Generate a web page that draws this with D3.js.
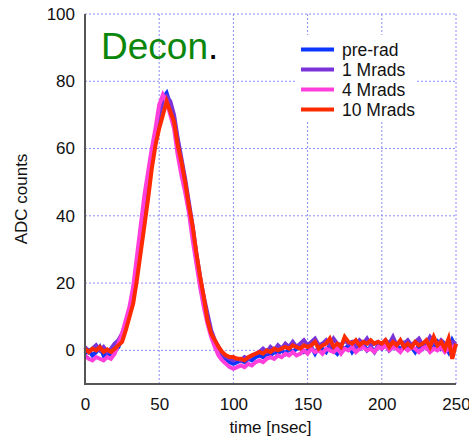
<!DOCTYPE html>
<html>
<head>
<meta charset="utf-8">
<script src="https://cdn.jsdelivr.net/npm/d3@7"></script>
<style>
  body { margin: 0; background: #fff; }
  text { font-family: "Liberation Sans", Arial, Helvetica, sans-serif; }
</style>
</head>
<body>
<script>
// time axis: one sample every 2.5 nsec, 0..250
const times = d3.range(0, 250.01, 2.5);

const seriesNames = ["pre-rad", "1 Mrads", "4 Mrads", "10 Mrads"];
const seriesColors = ["#0a36ff", "#7a33d9", "#ff3edc", "#ff2a00"];

const preRad = [
  -1, 0, -1.5, -0.5, 1, -1.5, -0.5, -2, 0, 1,
  4, 8, 12, 18, 26, 35, 43, 51, 58, 65,
  71, 75, 76.5, 73, 68, 61, 55, 49, 42, 35,
  27, 20, 14, 9, 5, 2, 0, -2, -3, -3.5,
  -4, -3.5, -3, -3.5, -2.5, -3, -2, -1.5, -2, -1,
  -1.5, -0.5, -1, 0, -1, 0.5, -0.5, 0.5, 1, -0.5,
  0, 1, -1, 1, 0.5, -0.5, 1.5, 0, -1, 1,
  0.5, 1.5, -0.5, 1, 0.5, 2, 0, 1, -0.5, 1.5,
  0.5, 2, 0, 1, 1.5, 0, 2, 0.5, 1, -0.5,
  1.5, 0.5, 2, 0, 1, 2.5, 0.5, 1.5, -0.5, 3,
  1
];

const oneMrad = [
  1, -0.5, 0.5, 1.5, 0, 1, -0.5, 0.5, 2, 3,
  5, 8, 12, 17, 25, 34, 42, 50, 57, 64,
  70, 74, 75.5, 74, 70, 63, 57, 51, 44, 37,
  29, 22, 16, 11, 6, 3, 1, -1, -2, -2.5,
  -3, -2.5, -3, -2, -2.5, -1.5, -1, -0.5, 0.5, -0.5,
  1, 0, 1.5, 0.5, 2, 1, 2.5, 1, 2, 3,
  1.5, 2.5, 3.5, 1.5, 2, 3, 1.5, 3.5, 2, 1.5,
  3, 2, 2.5, 1.5, 3, 2, 3.5, 1.5, 2, 2.5,
  1.5, 3, 2, 4, 1.5, 2.5, 2, 3, 1.5, 2.5,
  3.5, 1.5, 2, 4, 2.5, 1.5, 3, 2, 1.5, 2.5,
  2
];

const fourMrad = [
  -1.5, -2.5, -3, -2, -2.5, -3, -2, -2.5, -1, 2,
  5, 9, 13, 19, 28, 37, 46, 53, 60, 66,
  73, 76, 74, 70, 66, 58, 52, 47, 41, 33,
  26, 19, 13, 8, 4, 1, -1.5, -3, -4, -5,
  -5.5, -5, -4.5, -5, -4, -4.5, -3.5, -3, -3.5, -2.5,
  -2, -2.5, -1.5, -2, -1, -1.5, -0.5, -1.5, -1, 0,
  -1, 0.5, -0.5, 0, -1, 0.5, 0, -0.5, 0.5, -1,
  0.5, 0, 1, -0.5, 0.5, 1, 0, 0.5, -0.5, 1,
  0.5, 1.5, 0, 1, 0.5, -0.5, 1, 0, 1, 0.5,
  -0.5, 0.5, 1, -0.5, 0.5, 0, 1, -0.5, 0.5, 1,
  1.5
];

const tenMrad = [
  0.5, -0.5, 0.5, 0, 1, -0.5, 0.3, -0.5, 0.5, 1.5,
  2.5, 6, 10, 14, 21, 29, 37, 45, 54, 61,
  66, 70, 74, 71, 68, 61, 56, 50, 43, 37,
  29, 22, 16, 9, 5, 3, 1, -0.5, -1.5, -2,
  -2, -2.5, -2.5, -3, -2, -1.5, -1, -0.5, -1, 0,
  -0.5, 0.5, 0, 0.5, 1, 0.5, 1.5, 1, 0.5, 1.5,
  1, 1.5, 2.5, 0.5, 1.5, 2, 3.5, 1, 2, 1,
  4, 2.5, 2, 3, 1.5, 2.5, 2, 3, 2, 2.5,
  2, 3, 1, 2.5, 1.5, 3, 1, 2, 1, 2.5,
  1.5, 2, 3, 1, 4, 1.5, 2.5, 0.5, 3.5, -2.5,
  2
];

const allSeries = [preRad, oneMrad, fourMrad, tenMrad];

const xTicks = [0, 50, 100, 150, 200, 250];
const yTicks = [0, 20, 40, 60, 80, 100];

// layout
const W = 469, H = 439;
const margin = {top: 14, right: 13, bottom: 55, left: 85};
const width = W - margin.left - margin.right,
      height = H - margin.top - margin.bottom;

const svg = d3.select("body").append("svg")
    .attr("width", W)
    .attr("height", H);

const g = svg.append("g")
    .attr("transform", `translate(${margin.left},${margin.top})`);

const x = d3.scaleLinear().domain([0, 250]).range([0, width]);
const y = d3.scaleLinear().domain([-10, 100]).range([height, 0]);

// dotted grid (also forms top and right frame)
g.append("g").selectAll("line")
    .data(xTicks.filter(d => d > 0))
  .enter().append("line")
    .attr("x1", d => x(d)).attr("x2", d => x(d))
    .attr("y1", 0).attr("y2", height)
    .attr("stroke", "#8c8cf5")
    .attr("stroke-width", 1)
    .attr("stroke-dasharray", "2,2");

g.append("g").selectAll("line")
    .data(yTicks)
  .enter().append("line")
    .attr("x1", 0).attr("x2", width)
    .attr("y1", d => y(d)).attr("y2", d => y(d))
    .attr("stroke", "#8c8cf5")
    .attr("stroke-width", 1)
    .attr("stroke-dasharray", "2,2");

// axes: labels only, no tick marks
const xAxis = d3.axisBottom(x).tickValues(xTicks).tickSize(0).tickPadding(14);
const yAxis = d3.axisLeft(y).tickValues(yTicks).tickSize(0).tickPadding(10);

const gx = g.append("g")
    .attr("transform", `translate(0,${height})`)
    .call(xAxis);
const gy = g.append("g").call(yAxis);

[gx, gy].forEach(a => {
  a.select(".domain").remove();
  a.selectAll("text")
    .attr("font-size", 17)
    .attr("font-family", "Liberation Sans, Arial, sans-serif")
    .attr("fill", "#111");
});

// signal traces
const line = d3.line()
    .x((d, i) => x(times[i]))
    .y(d => y(d));

g.selectAll(".trace")
    .data(allSeries)
  .enter().append("path")
    .attr("class", "trace")
    .attr("d", line)
    .attr("fill", "none")
    .attr("stroke", (d, i) => seriesColors[i])
    .attr("stroke-width", 4)
    .attr("stroke-linejoin", "miter");

// solid left and bottom axis lines
g.append("line")
    .attr("x1", 0).attr("x2", 0)
    .attr("y1", 0).attr("y2", height)
    .attr("stroke", "#555").attr("stroke-width", 2);
g.append("line")
    .attr("x1", -1).attr("x2", width)
    .attr("y1", height).attr("y2", height)
    .attr("stroke", "#555").attr("stroke-width", 2);

// legend on a white box
const legend = svg.append("g").attr("transform", "translate(297,35)");
legend.append("rect")
    .attr("width", 120).attr("height", 85)
    .attr("fill", "#fff");

const rows = legend.selectAll(".row")
    .data(seriesNames)
  .enter().append("g")
    .attr("transform", (d, i) => `translate(0,${14.5 + i * 20})`);

rows.append("line")
    .attr("x1", 4).attr("x2", 37)
    .attr("stroke", (d, i) => seriesColors[i])
    .attr("stroke-width", 4);

rows.append("text")
    .attr("x", 45)
    .attr("y", 6)
    .attr("font-size", 17.5)
    .attr("fill", "#111")
    .text(d => d);

// title inside the plot
const title = svg.append("text")
    .attr("x", 101)
    .attr("y", 59)
    .attr("font-size", 37);
title.append("tspan").attr("fill", "#0a870a").text("Decon");
title.append("tspan").attr("fill", "#000").text(".");

// axis titles
svg.append("text")
    .attr("x", margin.left + width / 2)
    .attr("y", 433)
    .attr("text-anchor", "middle")
    .attr("font-size", 17)
    .attr("fill", "#111")
    .text("time [nsec]");

svg.append("text")
    .attr("transform", `translate(27,${margin.top + height / 2}) rotate(-90)`)
    .attr("text-anchor", "middle")
    .attr("font-size", 17)
    .attr("fill", "#111")
    .text("ADC counts");
</script>
</body>
</html>
